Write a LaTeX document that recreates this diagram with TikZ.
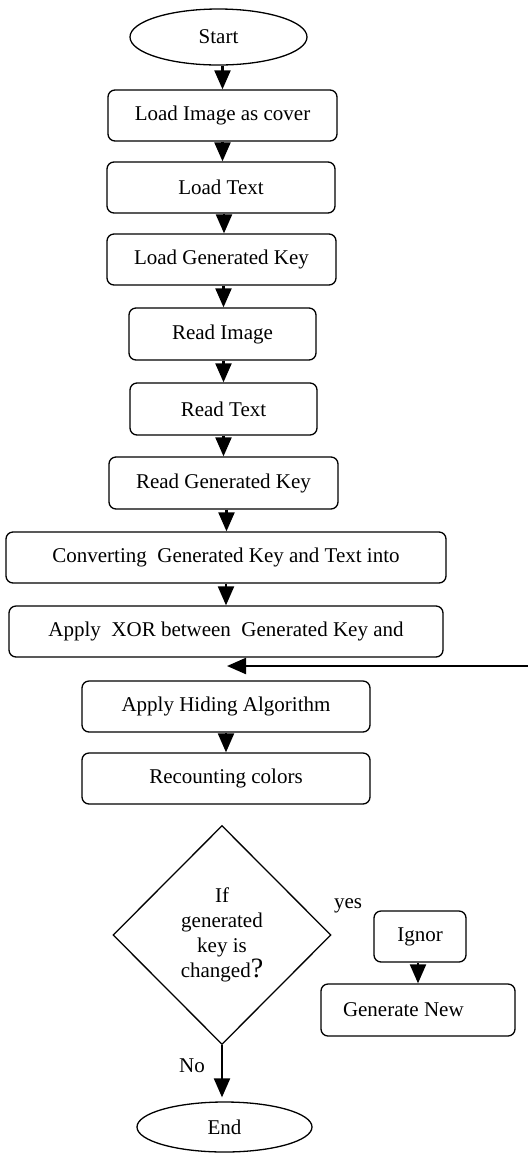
\documentclass[tikz,border=0pt]{standalone}
\usepackage{fontspec}
\setmainfont{Liberation Serif}
\usetikzlibrary{shapes.geometric,arrows.meta}

\tikzset{
  every node/.style={font=\fontsize{10.5}{12.5}\selectfont},
  procbox/.style={draw, line width=0.65pt, rounded corners=3.5pt, inner sep=0pt},
  terminal/.style={draw, ellipse, line width=0.65pt, inner sep=0pt},
  decision/.style={draw, diamond, line width=0.65pt, inner sep=0pt, align=center},
  flow/.style={line width=1.1pt, -{Triangle[length=9.5pt,width=8pt]}},
  lbl/.style={inner sep=0pt}
}

\begin{document}
\begin{tikzpicture}[x=0.5pt, y=-0.5pt]
\useasboundingbox (0,0) rectangle (528,1153);

% main column
\node[terminal, minimum width=88.5pt, minimum height=28pt] (start) at (218.5,37) {Start};
\node[procbox, minimum width=114.5pt, minimum height=25.5pt] (loadimg) at (222.5,115.5) {Load Image as cover};
\node[procbox, minimum width=114pt, minimum height=25.5pt] (loadtxt) at (221,187.5) {Load Text};
\node[procbox, minimum width=114.5pt, minimum height=25.5pt] (loadkey) at (221.5,259.5) {Load Generated Key};
\node[procbox, minimum width=93.5pt, minimum height=26pt] (readimg) at (222.5,334) {Read Image};
\node[procbox, minimum width=93.5pt, minimum height=26pt] (readtxt) at (223.5,409) {Read Text};
\node[procbox, minimum width=114.5pt, minimum height=26pt] (readkey) at (223.5,483) {Read Generated Key};
\node[procbox, minimum width=220pt, minimum height=25.5pt] (convert) at (226,557.5) {Converting\ \ Generated Key and Text into};
\node[procbox, minimum width=217pt, minimum height=25.5pt] (xor) at (226,631.5) {Apply\ \ XOR between\ \ Generated Key and};
\node[procbox, minimum width=144pt, minimum height=25.5pt] (hide) at (226,706.5) {Apply Hiding Algorithm};
\node[procbox, minimum width=144pt, minimum height=25.5pt] (recount) at (226,778.5) {Recounting colors};

% decision and branches
\node[decision, minimum width=109pt, minimum height=109.5pt] (check) at (222,935)
  {If\\generated\\key is\\changed{\fontsize{14}{14}\selectfont ?}};
\node[lbl] (yes) at (348,906) {yes};
\node[procbox, minimum width=46pt, minimum height=25.5pt] (ignor) at (420,936.5) {Ignor};
\node[procbox, minimum width=97pt, minimum height=26pt] (gennew) at (418,1010) {\makebox[75pt][l]{Generate New}};
\node[lbl] (no) at (192,1066) {No};
\node[terminal, minimum width=87.5pt, minimum height=25pt] (end) at (224.5,1127) {End};

% return path entering between the XOR and hiding steps
\coordinate (back) at (528,666);
\coordinate (join) at (227,666);

% connectors
\draw[flow] (start.south -| loadimg.north) -- (loadimg.north);
\draw[flow] (loadimg.south) -- (loadimg.south |- loadtxt.north);
\draw[flow] ([xshift=1.5pt]loadtxt.south) -- ([xshift=1.5pt]loadtxt.south |- loadkey.north);
\draw[flow] ([xshift=1pt]loadkey.south) -- ([xshift=1pt]loadkey.south |- readimg.north);
\draw[flow] ([xshift=0.5pt]readimg.south) -- ([xshift=0.5pt]readimg.south |- readtxt.north);
\draw[flow] (readtxt.south) -- (readtxt.south |- readkey.north);
\draw[flow] ([xshift=1.5pt]readkey.south) -- ([xshift=1.5pt]readkey.south |- convert.north);
\draw[flow] (convert.south) -- (convert.south |- xor.north);
\draw[flow] (back) -- (join);
\draw[flow] (hide.south) -- (hide.south |- recount.north);
\draw[flow] ([xshift=-1pt]ignor.south) -- ([xshift=-1pt]ignor.south |- gennew.north);
\draw[flow, shorten >=2pt] (check.south) -- (check.south |- end.north);

\end{tikzpicture}
\end{document}
